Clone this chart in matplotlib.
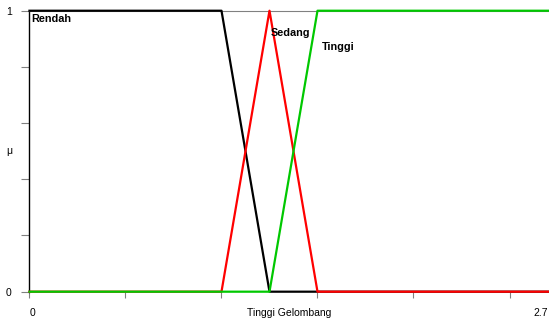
import matplotlib
matplotlib.use("Agg")
import matplotlib.pyplot as plt
import numpy as np

plt.rcParams['font.family'] = ['Liberation Sans', 'DejaVu Sans']

x_min, x_max = 0.0, 2.7
rendah_x = [0.0, 0.0, 1.0, 1.25, 2.7]
rendah_y = [1, 1, 1, 0, 0]
sedang_x = [0.0, 1.0, 1.25, 1.5, 2.7]
sedang_y = [0, 0, 1, 0, 0]
tinggi_x = [0.0, 1.25, 1.5, 2.7]
tinggi_y = [0, 0, 1, 1]
names = ["Rendah", "Sedang", "Tinggi"]
name_pos = [(0.01, 0.987), (1.255, 0.937), (1.525, 0.89)]
xticks = [0, 0.5, 1.0, 1.5, 2.0, 2.5]
yticks = [0, 0.2, 0.4, 0.6, 0.8, 1.0]

fig = plt.figure(figsize=(5.49, 3.25), dpi=100)
ax = fig.add_axes([0.0537, 0.1025, 0.998 - 0.0537, 0.967 - 0.1025])

ax.plot(rendah_x, rendah_y, color='black', lw=1.6, clip_on=False, zorder=3)
ax.plot(sedang_x, sedang_y, color='#ff0000', lw=1.6, clip_on=False, zorder=4)
ax.plot(tinggi_x, tinggi_y, color='#00c800', lw=1.6, clip_on=False, zorder=5)

ax.set_xlim(x_min, x_max)
ax.set_ylim(0, 1)

for n, (px, py) in zip(names, name_pos):
    ax.text(px, py, n, fontsize=7.8, fontweight='bold', ha='left', va='top', zorder=6)

ax.set_xticks(xticks)
ax.set_xticklabels([])
ax.set_yticks(yticks)
ax.set_yticklabels(['0', '', '', '', '', '1'], fontsize=7.5)
ax.tick_params(axis='x', direction='out', length=4.5, width=0.8, color='#808080')
ax.tick_params(axis='y', direction='out', length=5.8, width=0.8, color='#808080', pad=7)

for s in ['right', 'bottom']:
    ax.spines[s].set_visible(False)
ax.spines['left'].set_color('black')
ax.spines['left'].set_linewidth(1.0)
ax.spines['top'].set_color('#808080')
ax.spines['top'].set_linewidth(0.8)

ax.text(0.0, -0.077, '0', fontsize=7.5, ha='left', va='center', clip_on=False)
ax.text(2.7, -0.077, '2.7', fontsize=7.5, ha='right', va='center', clip_on=False)
ax.text(1.35, -0.077, 'Tinggi Gelombang', fontsize=7.5, ha='center', va='center', clip_on=False)
ax.text(-0.105, 0.5, 'μ', fontsize=7.5, ha='center', va='center', clip_on=False)

fig.savefig('out.png', dpi=100)
